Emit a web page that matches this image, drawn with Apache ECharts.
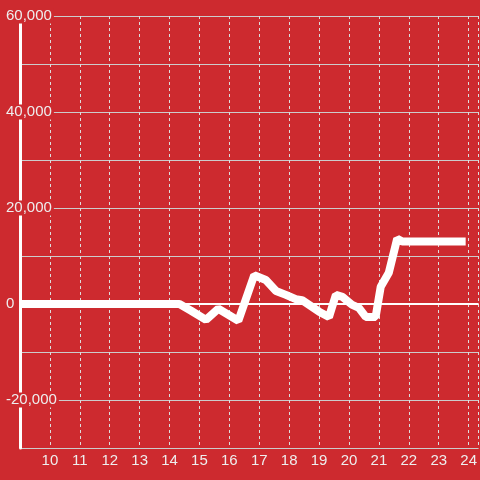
<!DOCTYPE html>
<html>
<head>
<meta charset="utf-8">
<script src="https://cdn.jsdelivr.net/npm/echarts@6/dist/echarts.min.js"></script>
<style>
  html, body { margin: 0; padding: 0; background: #cd2a2f; }
  #chart { width: 480px; height: 480px; }
</style>
</head>
<body>
<div id="chart"></div>
<script>
  // hours of day and values
  var hours = [9, 14.33, 14.72, 15.22, 15.63, 16.3, 16.83, 17.22, 17.56, 17.89, 18.22, 18.43,
               19.0, 19.33, 19.56, 19.78, 20.11, 20.33, 20.56, 20.89, 21.06, 21.33, 21.61, 21.78, 23.9];
  var values = [0, 0, -1400, -3300, -1000, -3500, 6000, 5000, 2700, 1900, 1000, 800,
                -1600, -2700, 1900, 1500, -200, -800, -2700, -2700, 3600, 6500, 13600, 13000, 13000];
  var yLabelStep = 20000;

  var points = hours.map(function (h, i) { return [h, values[i]]; });

  var chart = echarts.init(document.getElementById('chart'));
  var labelFont = 'Liberation Sans';

  chart.setOption({
    backgroundColor: '#cd2a2f',
    animation: false,
    grid: { left: 20, top: 16, right: 0, bottom: 32 },
    xAxis: {
      type: 'value',
      min: 9,
      max: 24.333,
      interval: 1,
      axisLine: { show: false },
      axisTick: { show: false },
      splitLine: { show: true, lineStyle: { color: '#dddddd', width: 1, type: [3, 3] } },
      axisLabel: {
        color: '#eeeeee',
        fontSize: 15,
        fontFamily: labelFont,
        margin: 5,
        showMaxLabel: false,
        formatter: function (v) { return v === 9 ? '' : String(v); }
      }
    },
    yAxis: [
      {
        type: 'value',
        min: -30000,
        max: 60000,
        interval: 10000,
        axisLine: { show: false },
        axisTick: { show: false },
        axisLabel: { show: false },
        splitLine: { show: true, lineStyle: { color: '#cccccc', width: 1 } }
      },
      {
        type: 'value',
        position: 'left',
        min: -30000,
        max: 60000,
        interval: 10000,
        z: 5,
        axisLine: { show: true, lineStyle: { color: '#ffffff', width: 3 } },
        axisTick: { show: false },
        splitLine: { show: false },
        axisLabel: {
          color: '#eeeeee',
          fontSize: 15,
          fontFamily: labelFont,
          align: 'left',
          margin: 15,
          backgroundColor: '#cd2a2f',
          padding: [0, 2, 0, 1],
          formatter: function (v) {
            return v % yLabelStep === 0 ? v.toLocaleString('en-US') : '';
          }
        }
      }
    ],
    series: [
      {
        type: 'line',
        yAxisIndex: 0,
        data: points,
        showSymbol: false,
        symbol: 'none',
        lineStyle: { color: '#ffffff', width: 8 },
        markLine: {
          silent: true,
          symbol: 'none',
          label: { show: false },
          lineStyle: { color: '#ffffff', width: 2, type: 'solid' },
          data: [{ yAxis: 0 }]
        }
      }
    ]
  });
</script>
</body>
</html>
